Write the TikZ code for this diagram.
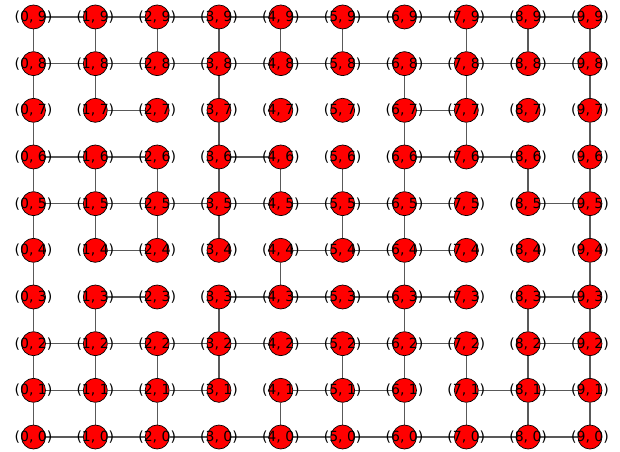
\documentclass[tikz,border=0pt]{standalone}
\usepackage{fontspec}
\setmainfont{DejaVu Sans}
\pgfdeclarelayer{bg}
\pgfsetlayers{bg,main}
\tikzset{
  vtx/.style={circle,fill=red,draw=black,line width=0.7pt,minimum size=24pt,inner sep=0pt},
  lbl/.style={font=\fontsize{14}{14}\selectfont,text=black,inner sep=0pt},
  edge/.style={draw=black!65,line width=1.3pt}
}
\begin{document}
\begin{tikzpicture}[x=61.83pt,y=46.67pt]
\useasboundingbox (-33.5pt,-14pt) rectangle (586.5pt,437pt);
\foreach \i in {0,...,9}{
  \foreach \j in {0,...,9}{
    \node[vtx,label={[lbl]center:(\i, \j)}] (n-\i-\j) at (\i,\j) {};
  }
}
\begin{pgfonlayer}{bg}
% horizontal edges: row / list of i with edge i -- i+1
\foreach \j/\lst in {9/{0,1,2,3,4,5,6,7,8},8/{0,1,2,3,4,5,6,7,8},7/{1,6},6/{0,1,3,6,7},5/{0,1,2,3,4,5,6,8},4/{1,4,5,6},3/{1,3,4,5,6,8},2/{0,1,2,3,4,5,6,8},1/{0,1,2,4,5,7,8},0/{0,1,2,3,4,5,6,7,8}}{
  \foreach \i in \lst {
    \pgfmathtruncatemacro\k{\i+1}
    \draw[edge] (n-\i-\j) -- (n-\k-\j);
  }
}
% vertical edges: column / list of j with edge j -- j+1
\foreach \i/\lst in {0/{0,1,2,3,4,5,6,7,8},1/{0,1,2,4,5,7,8},2/{0,1,4,5,8},3/{1,2,4,5,6,7,8},4/{0,3,5,8},5/{0,1,4,5,8},6/{0,1,2,3,4,5,6,7},7/{0,1,6,7,8},8/{0,1,2,5,8},9/{0,1,2,3,4,5,6,7,8}}{
  \foreach \j in \lst {
    \pgfmathtruncatemacro\k{\j+1}
    \draw[edge] (n-\i-\j) -- (n-\i-\k);
  }
}
\end{pgfonlayer}
\end{tikzpicture}
\end{document}
